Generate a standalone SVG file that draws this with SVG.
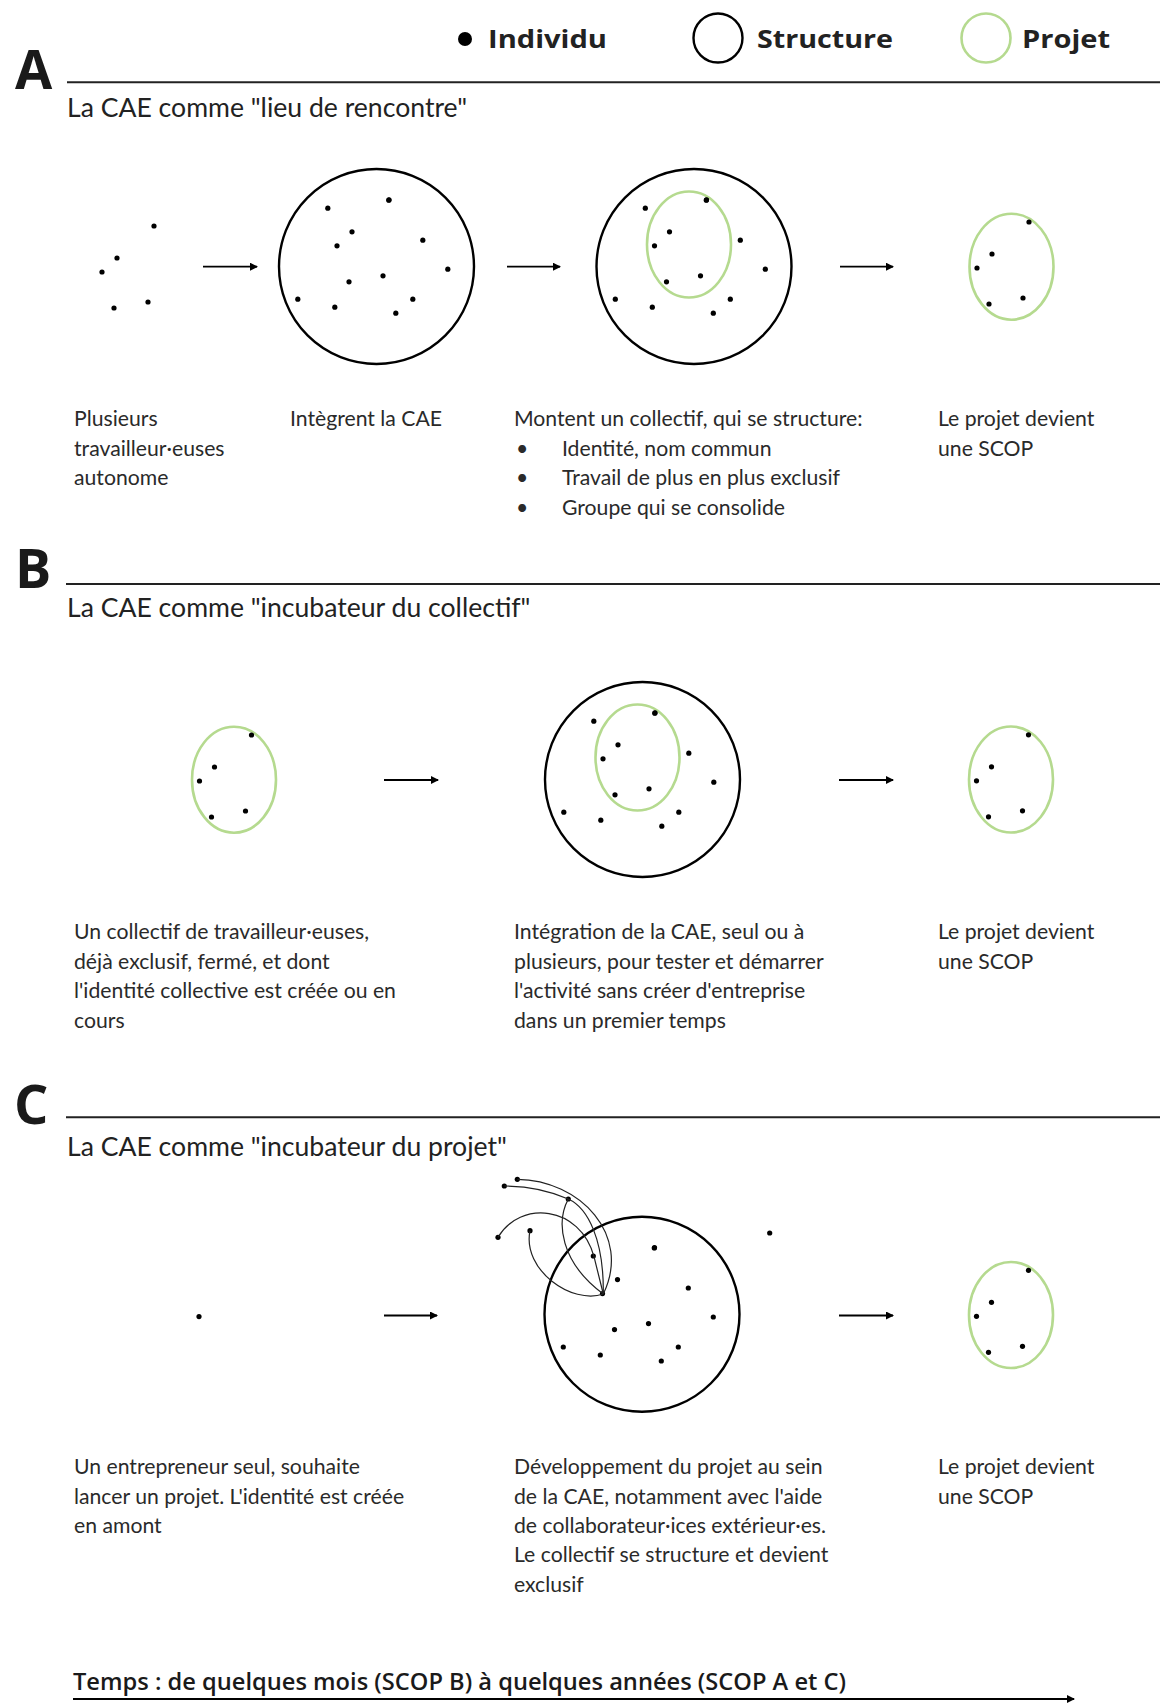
<svg xmlns="http://www.w3.org/2000/svg" xmlns:xlink="http://www.w3.org/1999/xlink" width="1160" height="1704" viewBox="0 0 1160 1704">
<style>
.bg{fill:#fff}
.dot{fill:#000}
.struct{fill:none;stroke:#000;stroke-width:2.4}
.proj{fill:none;stroke:#b5da8f;stroke-width:2.6}
.rule{stroke:#222;stroke-width:2}
.arrow{stroke:#000;stroke-width:1.8;fill:none}
.link{stroke:#222;stroke-width:1.2;fill:none}
.letter{font-family:"Open Sans","DejaVu Sans",sans-serif;font-weight:700;font-size:54px;fill:#1a1a1a}
.legend{font-family:"Open Sans","DejaVu Sans",sans-serif;font-weight:700;font-size:25px;fill:#222}
.head{font-family:Lato,"Liberation Sans",sans-serif;font-size:26.6px;fill:#222}
.body{font-family:Lato,"Liberation Sans",sans-serif;font-size:21.2px;fill:#2a2a2a}
.time{font-family:"Open Sans","DejaVu Sans",sans-serif;font-weight:600;font-size:22.5px;fill:#1a1a1a}
</style>
<defs>
<marker id="ah" viewBox="0 0 8 8" refX="7" refY="4" markerWidth="8" markerHeight="8" markerUnits="userSpaceOnUse" orient="auto">
<path d="M0,0 L8,4 L0,8 z" fill="#000"/>
</marker>
<g id="fivedots">
<circle class="dot" cx="17.5" cy="-44.7" r="2.6"/>
<circle class="dot" cx="-19.5" cy="-12.7" r="2.6"/>
<circle class="dot" cx="-34.5" cy="1.3" r="2.6"/>
<circle class="dot" cx="-22.5" cy="37.3" r="2.6"/>
<circle class="dot" cx="11.5" cy="31.3" r="2.6"/>
</g>
<g id="projet">
<ellipse class="proj" cx="0" cy="0" rx="42" ry="53"/>
<use xlink:href="#fivedots"/>
</g>
<g id="outerdots">
<circle class="dot" cx="-48.7" cy="-58.3" r="2.6"/>
<circle class="dot" cx="12.3" cy="-66.3" r="2.6"/>
<circle class="dot" cx="46.3" cy="-26.3" r="2.6"/>
<circle class="dot" cx="71.3" cy="2.7" r="2.6"/>
<circle class="dot" cx="-78.7" cy="32.7" r="2.6"/>
<circle class="dot" cx="-41.7" cy="40.7" r="2.6"/>
<circle class="dot" cx="36.3" cy="32.7" r="2.6"/>
<circle class="dot" cx="19.3" cy="46.7" r="2.6"/>
</g>
<g id="structdots">
<use xlink:href="#outerdots"/>
<use xlink:href="#fivedots" transform="translate(-5,-22)"/>
</g>
</defs>
<rect class="bg" x="0" y="0" width="1160" height="1704"/>

<g id="legend">
<circle class="dot" cx="465" cy="39" r="7"/>
<text class="legend" x="488" y="48" textLength="119" lengthAdjust="spacingAndGlyphs">Individu</text>
<circle class="struct" cx="718" cy="38" r="24.5"/>
<text class="legend" x="757" y="48" textLength="136" lengthAdjust="spacingAndGlyphs">Structure</text>
<circle class="proj" cx="986" cy="38" r="24.5"/>
<text class="legend" x="1022" y="48" textLength="88" lengthAdjust="spacingAndGlyphs">Projet</text>
</g>

<g id="sectionA">
<text class="letter" x="15" y="89">A</text>
<line class="rule" x1="67" y1="82.3" x2="1160" y2="82.3"/>
<text class="head" x="67" y="117">La CAE comme "lieu de rencontre"</text>
</g>
<g id="A-individus"><use xlink:href="#fivedots" transform="translate(136.5,270.7)"/></g>
<g id="A-cae"><circle class="struct" cx="376.5" cy="266.5" r="97.5"/><use xlink:href="#structdots" transform="translate(376.5,266.5)"/></g>
<g id="A-collectif"><circle class="struct" cx="694" cy="266.5" r="97.5"/><ellipse class="proj" cx="689" cy="244.5" rx="42" ry="53"/><use xlink:href="#structdots" transform="translate(694,266.5)"/></g>
<g id="A-scop"><use xlink:href="#projet" transform="translate(1011.5,266.7)"/></g>
<g id="A-text">
<text class="body" x="74" y="426">Plusieurs</text>
<text class="body" x="74" y="455.7">travailleur·euses</text>
<text class="body" x="74" y="485.4">autonome</text>
<text class="body" x="290" y="426">Intègrent la CAE</text>
<text class="body" x="514" y="426">Montent un collectif, qui se structure:</text>
<text class="body" x="516" y="455.7">•</text><text class="body" x="562" y="455.7">Identité, nom commun</text>
<text class="body" x="516" y="485.4">•</text><text class="body" x="562" y="485.4">Travail de plus en plus exclusif</text>
<text class="body" x="516" y="515.1">•</text><text class="body" x="562" y="515.1">Groupe qui se consolide</text>
<text class="body" x="938" y="426">Le projet devient</text>
<text class="body" x="938" y="455.7">une SCOP</text>
</g>

<g id="sectionB">
<text class="letter" x="15" y="588">B</text>
<line class="rule" x1="66" y1="584" x2="1160" y2="584"/>
<text class="head" x="67" y="617">La CAE comme "incubateur du collectif"</text>
</g>
<g id="B-collectif"><use xlink:href="#projet" transform="translate(234,779.7)"/></g>
<g id="B-cae"><circle class="struct" cx="642.5" cy="779.5" r="97.5"/><ellipse class="proj" cx="637.5" cy="757.5" rx="42" ry="53"/><use xlink:href="#structdots" transform="translate(642.5,779.5)"/></g>
<g id="B-scop"><use xlink:href="#projet" transform="translate(1011,779.5)"/></g>
<g id="B-text">
<text class="body" x="74" y="939.3">Un collectif de travailleur·euses,</text>
<text class="body" x="74" y="968.7">déjà exclusif, fermé, et dont</text>
<text class="body" x="74" y="998.1">l'identité collective est créée ou en</text>
<text class="body" x="74" y="1027.5">cours</text>
<text class="body" x="514" y="939.3">Intégration de la CAE, seul ou à</text>
<text class="body" x="514" y="968.7">plusieurs, pour tester et démarrer</text>
<text class="body" x="514" y="998.1">l'activité sans créer d'entreprise</text>
<text class="body" x="514" y="1027.5">dans un premier temps</text>
<text class="body" x="938" y="939.3">Le projet devient</text>
<text class="body" x="938" y="968.7">une SCOP</text>
</g>

<g id="sectionC">
<text class="letter" x="14" y="1124">C</text>
<line class="rule" x1="66" y1="1117.3" x2="1160" y2="1117.3"/>
<text class="head" x="67" y="1155.5">La CAE comme "incubateur du projet"</text>
</g>
<g id="C-entrepreneur"><circle class="dot" cx="199" cy="1316.6" r="2.6"/></g>
<g id="C-cae">
<circle class="struct" cx="642" cy="1314.3" r="97.5"/>
<use xlink:href="#outerdots" transform="translate(642,1314.3)"/>
<use xlink:href="#fivedots" transform="translate(637,1292.3)"/>
<circle class="dot" cx="517.3" cy="1179.3" r="2.6"/>
<circle class="dot" cx="504.3" cy="1186" r="2.6"/>
<circle class="dot" cx="568.3" cy="1199" r="2.6"/>
<circle class="dot" cx="498" cy="1237.3" r="2.6"/>
<circle class="dot" cx="530" cy="1230.7" r="2.6"/>
<circle class="dot" cx="769.7" cy="1233" r="2.6"/>
</g>
<g id="C-scop"><use xlink:href="#projet" transform="translate(1011,1315)"/></g>
<g id="C-text">
<text class="body" x="74" y="1474.3">Un entrepreneur seul, souhaite</text>
<text class="body" x="74" y="1503.6">lancer un projet. L'identité est créée</text>
<text class="body" x="74" y="1532.9">en amont</text>
<text class="body" x="514" y="1474.3">Développement du projet au sein</text>
<text class="body" x="514" y="1503.6">de la CAE, notamment avec l'aide</text>
<text class="body" x="514" y="1532.9">de collaborateur·ices extérieur·es.</text>
<text class="body" x="514" y="1562.2">Le collectif se structure et devient</text>
<text class="body" x="514" y="1591.5">exclusif</text>
<text class="body" x="938" y="1474.3">Le projet devient</text>
<text class="body" x="938" y="1503.6">une SCOP</text>
</g>

<g id="connectors">
<line class="arrow" x1="203" y1="266.7" x2="257" y2="266.7" marker-end="url(#ah)"/>
<line class="arrow" x1="507" y1="266.7" x2="560" y2="266.7" marker-end="url(#ah)"/>
<line class="arrow" x1="840" y1="266.7" x2="893" y2="266.7" marker-end="url(#ah)"/>
<line class="arrow" x1="384" y1="780" x2="438" y2="780" marker-end="url(#ah)"/>
<line class="arrow" x1="839" y1="780" x2="893" y2="780" marker-end="url(#ah)"/>
<line class="arrow" x1="384" y1="1315.5" x2="437" y2="1315.5" marker-end="url(#ah)"/>
<line class="arrow" x1="839" y1="1315.5" x2="893" y2="1315.5" marker-end="url(#ah)"/>
<path class="link" d="M517.3,1179.3 C580,1180 632,1235 603.3,1294"/>
<path class="link" d="M504.3,1186 C525,1186 548,1190 568.3,1199 C588,1208 604,1240 603.3,1294"/>
<path class="link" d="M568.3,1199 C556,1222 560,1262 603.3,1294"/>
<path class="link" d="M498,1237.3 C520,1200 580,1205 594,1256.7 L603.3,1294"/>
<path class="link" d="M530,1230.7 C522,1270 572,1305 603.3,1294"/>
<line class="arrow" x1="73" y1="1699" x2="1074" y2="1699" marker-end="url(#ah)"/>
</g>

<g id="timeline">
<text class="time" x="73" y="1689.5" textLength="773" lengthAdjust="spacingAndGlyphs">Temps : de quelques mois (SCOP B) à quelques années (SCOP A et C)</text>
</g>
</svg>
